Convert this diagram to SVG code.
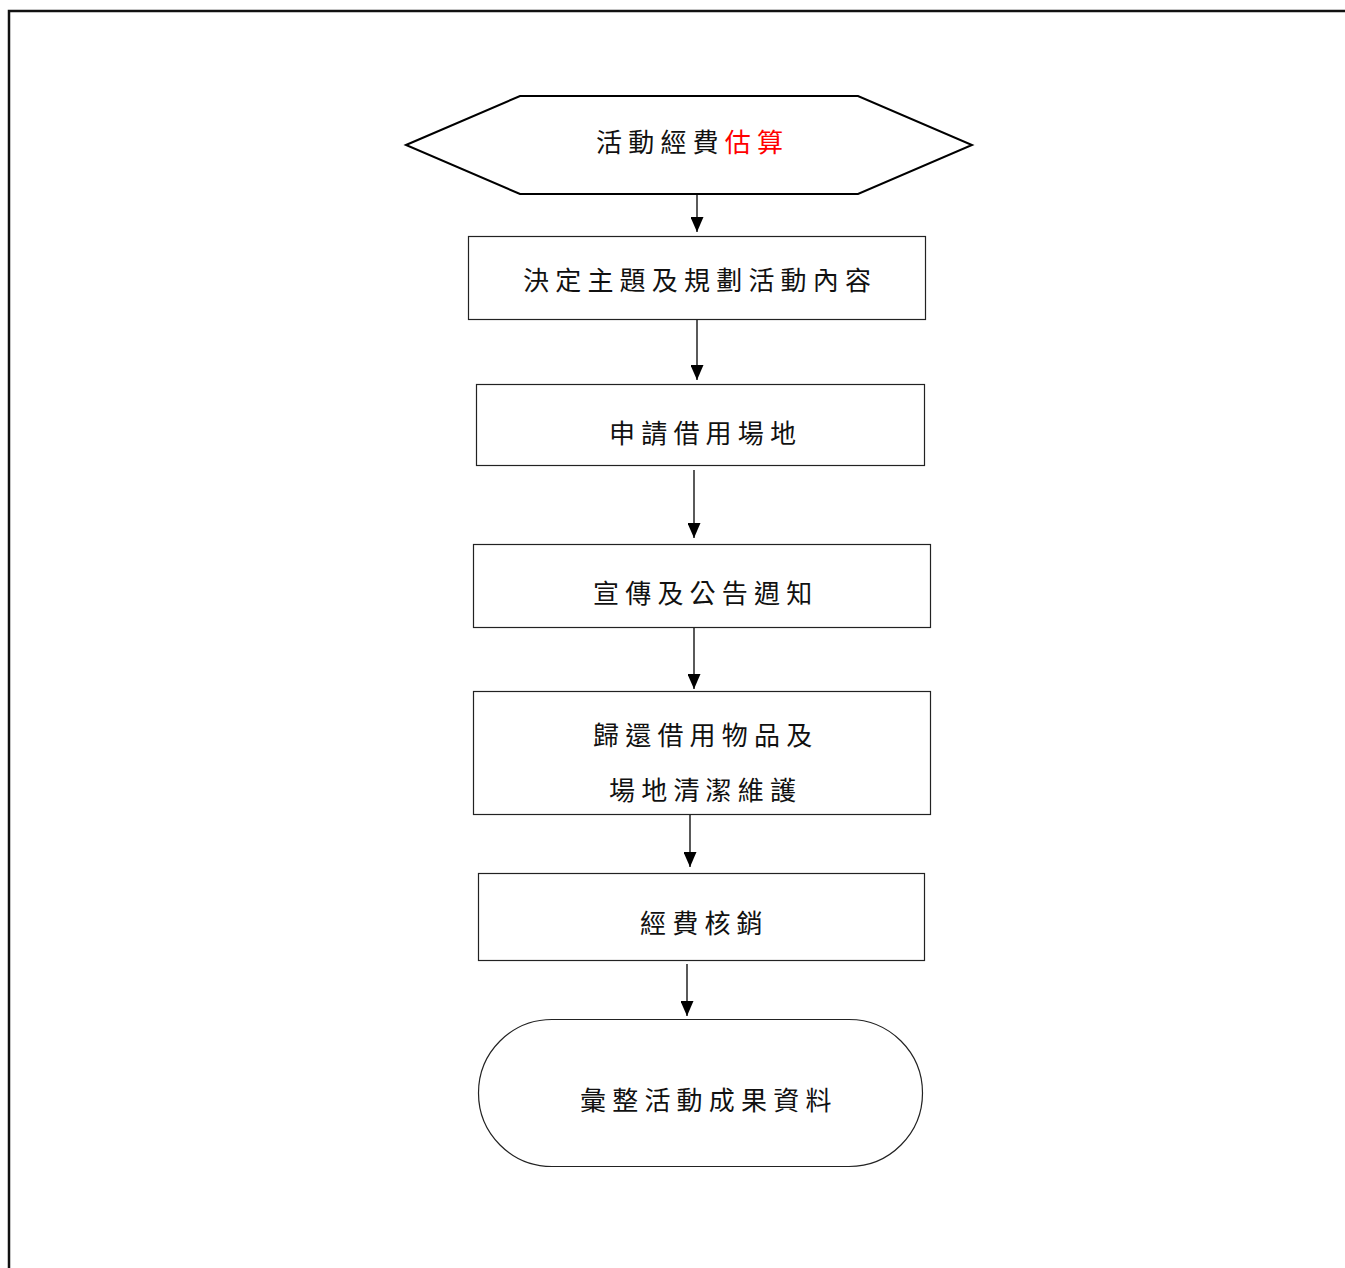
<svg xmlns="http://www.w3.org/2000/svg" width="1345" height="1268" viewBox="0 0 1345 1268">
<style>
.box{fill:#fff;stroke:#222;stroke-width:1.2}
.hex{fill:#fff;stroke:#000;stroke-width:2}
.t{font-family:"Liberation Serif","Noto Sans CJK TC",serif;font-size:26px;letter-spacing:6.2px;fill:#111}
.c{stroke:#000;stroke-width:1.3;fill:none;marker-end:url(#ah)}
</style>
<defs>
<marker id="ah" markerWidth="15" markerHeight="13" refX="15" refY="6.5" orient="auto" markerUnits="userSpaceOnUse" viewBox="0 0 15 13">
<path d="M0,0 L15,6.5 L0,13 Z" fill="#000"/>
</marker>
</defs>
<rect width="1345" height="1268" fill="#fff"/>
<path d="M9,1268 V11 H1345" fill="none" stroke="#111" stroke-width="2.5"/>
<g id="n1">
<polygon class="hex" points="406,145 520,96 858,96 972,145 858,194 520,194"/>
<text class="t" x="596" y="152">活動經費<tspan fill="#f00">估算</tspan></text>
</g>
<g id="n2">
<rect class="box" x="468.5" y="236.5" width="457" height="83"/>
<text class="t" x="523" y="290">決定主題及規劃活動內容</text>
</g>
<g id="n3">
<rect class="box" x="476.5" y="384.5" width="448" height="81"/>
<text class="t" x="609" y="443">申請借用場地</text>
</g>
<g id="n4">
<rect class="box" x="473.5" y="544.5" width="457" height="83"/>
<text class="t" x="593" y="603">宣傳及公告週知</text>
</g>
<g id="n5">
<rect class="box" x="473.5" y="691.5" width="457" height="123"/>
<text class="t" x="593" y="745">歸還借用物品及</text>
<text class="t" x="609" y="800">場地清潔維護</text>
</g>
<g id="n6">
<rect class="box" x="478.5" y="873.5" width="446" height="87"/>
<text class="t" x="640" y="933">經費核銷</text>
</g>
<g id="n7">
<rect class="box" x="478.5" y="1019.5" width="444" height="147" rx="73.5" ry="73.5"/>
<text class="t" x="580" y="1110">彙整活動成果資料</text>
</g>
<g id="connectors">
<line class="c" x1="697" y1="194" x2="697" y2="232"/>
<line class="c" x1="697" y1="320" x2="697" y2="380"/>
<line class="c" x1="694" y1="470" x2="694" y2="538"/>
<line class="c" x1="694" y1="628" x2="694" y2="689"/>
<line class="c" x1="690" y1="815" x2="690" y2="867"/>
<line class="c" x1="687" y1="964" x2="687" y2="1016"/>
</g>
</svg>
